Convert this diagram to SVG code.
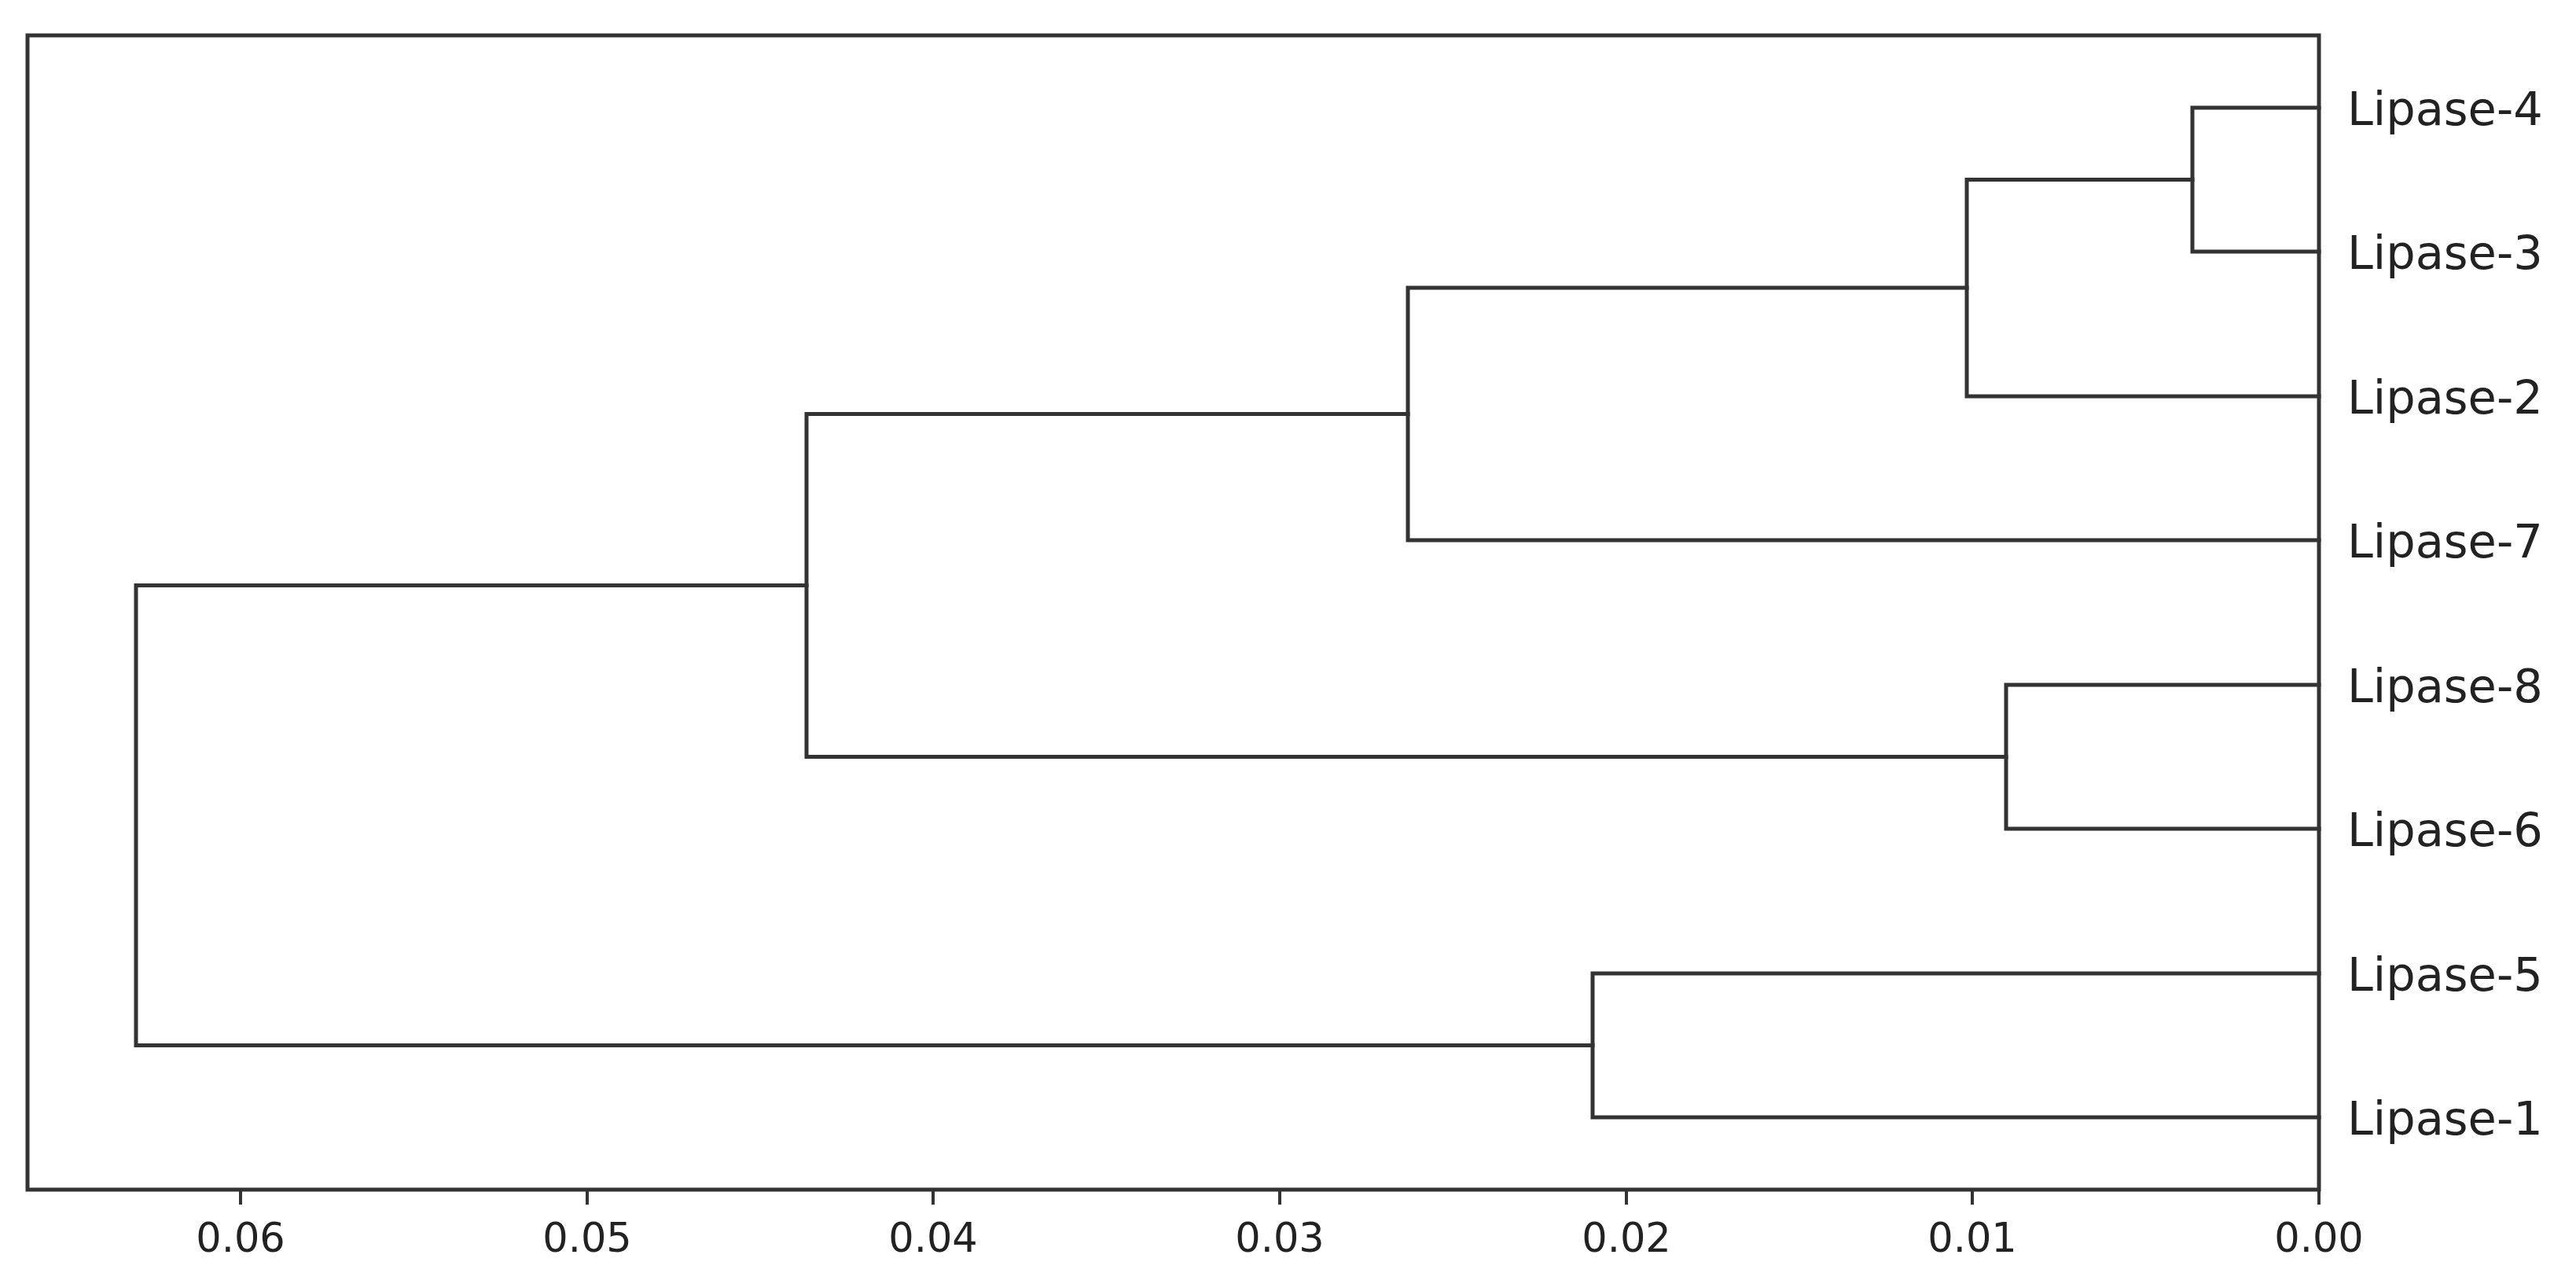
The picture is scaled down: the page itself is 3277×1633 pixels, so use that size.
<svg xmlns="http://www.w3.org/2000/svg" width="3277" height="1633" viewBox="0 0 3277 1633">
<style>
.ln{fill:none;stroke:#333;stroke-width:5;stroke-linecap:square;stroke-linejoin:miter}
.ax{fill:none;stroke:#333;stroke-width:5}
.tk{stroke:#333;stroke-width:4}
.lbl{font-family:"DejaVu Sans",sans-serif;font-size:59px;fill:#222}
.tl{font-family:"DejaVu Sans",sans-serif;font-size:51px;fill:#222;text-anchor:middle}
</style>
<rect width="3277" height="1633" fill="#fff"/>
<g id="axes">
<rect class="ax" x="35" y="45" width="2915" height="1468"/>
<line class="tk" x1="306" y1="1513" x2="306" y2="1532"/>
<line class="tk" x1="747" y1="1513" x2="747" y2="1532"/>
<line class="tk" x1="1187" y1="1513" x2="1187" y2="1532"/>
<line class="tk" x1="1628" y1="1513" x2="1628" y2="1532"/>
<line class="tk" x1="2069" y1="1513" x2="2069" y2="1532"/>
<line class="tk" x1="2509" y1="1513" x2="2509" y2="1532"/>
<line class="tk" x1="2950" y1="1513" x2="2950" y2="1532"/>
<text class="tl" x="306" y="1592">0.06</text>
<text class="tl" x="747" y="1592">0.05</text>
<text class="tl" x="1187" y="1592">0.04</text>
<text class="tl" x="1628" y="1592">0.03</text>
<text class="tl" x="2069" y="1592">0.02</text>
<text class="tl" x="2509" y="1592">0.01</text>
<text class="tl" x="2950" y="1592">0.00</text>
</g>
<g id="connectors">
<path class="ln" d="M2950 137 H2789 V320 H2950"/>
<path class="ln" d="M2789 228.5 H2502 V504 H2950"/>
<path class="ln" d="M2502 366 H1791 V687 H2950"/>
<path class="ln" d="M2950 871 H2552 V1054 H2950"/>
<path class="ln" d="M1791 526.5 H1026 V962.5 H2552"/>
<path class="ln" d="M2950 1238 H2026 V1421 H2950"/>
<path class="ln" d="M1026 744.5 H173 V1329.5 H2026"/>
</g>
<g id="leaf-4"><text class="lbl" x="2986" y="159">Lipase-4</text></g>
<g id="leaf-3"><text class="lbl" x="2986" y="342">Lipase-3</text></g>
<g id="leaf-2"><text class="lbl" x="2986" y="526">Lipase-2</text></g>
<g id="leaf-7"><text class="lbl" x="2986" y="709">Lipase-7</text></g>
<g id="leaf-8"><text class="lbl" x="2986" y="893">Lipase-8</text></g>
<g id="leaf-6"><text class="lbl" x="2986" y="1076">Lipase-6</text></g>
<g id="leaf-5"><text class="lbl" x="2986" y="1260">Lipase-5</text></g>
<g id="leaf-1"><text class="lbl" x="2986" y="1443">Lipase-1</text></g>
</svg>
